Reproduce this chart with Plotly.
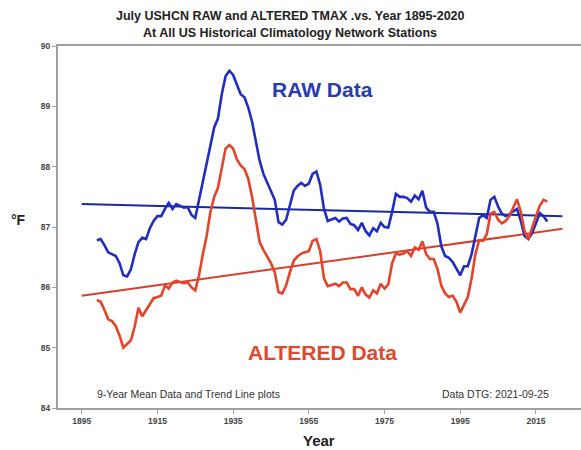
import plotly.graph_objects as go

years = list(range(1899, 2019))

raw_vals = [
    86.78, 86.80, 86.70, 86.58, 86.55, 86.52, 86.40, 86.20, 86.18, 86.30,
    86.55, 86.75, 86.82, 86.80, 86.98, 87.10, 87.18, 87.18, 87.30, 87.40,
    87.30, 87.38, 87.35, 87.32, 87.33, 87.20, 87.15, 87.45, 87.80, 88.05,
    88.40, 88.65, 88.80, 89.20, 89.50, 89.59, 89.52, 89.35, 89.20, 89.15,
    88.98, 88.75, 88.45, 88.10, 87.88, 87.74, 87.58, 87.45, 87.08, 87.04,
    87.12, 87.38, 87.60, 87.68, 87.73, 87.68, 87.72, 87.88, 87.92, 87.70,
    87.30, 87.10, 87.12, 87.15, 87.09, 87.14, 87.15, 87.05, 87.03, 86.95,
    87.07, 86.93, 86.86, 86.98, 86.93, 87.07, 87.00, 86.99, 87.25, 87.55,
    87.50, 87.50, 87.48, 87.42, 87.52, 87.46, 87.60, 87.32, 87.25, 87.25,
    87.05, 86.68, 86.52, 86.49, 86.42, 86.32, 86.20, 86.35, 86.35, 86.55,
    86.88, 87.15, 87.20, 87.15, 87.45, 87.50, 87.34, 87.22, 87.18, 87.21,
    87.26, 87.30, 87.10, 86.85, 86.80, 86.90, 87.06, 87.23, 87.18, 87.09,
]

altered_vals = [
    85.79, 85.76, 85.63, 85.47, 85.44, 85.36, 85.20, 85.00, 85.06, 85.12,
    85.35, 85.66, 85.52, 85.62, 85.74, 85.82, 85.84, 85.86, 86.03, 85.98,
    86.08, 86.11, 86.09, 86.07, 86.08, 86.00, 85.95, 86.20, 86.55, 86.85,
    87.25, 87.50, 87.65, 88.00, 88.30, 88.36, 88.30, 88.12, 88.02, 87.96,
    87.80, 87.50, 87.10, 86.75, 86.62, 86.52, 86.40, 86.25, 85.92, 85.90,
    86.03, 86.25, 86.44, 86.51, 86.56, 86.58, 86.60, 86.77, 86.80, 86.60,
    86.15, 86.02, 86.04, 86.06, 86.02, 86.08, 86.08, 85.97, 85.97, 85.86,
    86.00, 85.88, 85.83, 85.95, 85.90, 86.06, 85.98, 86.05, 86.40, 86.56,
    86.54, 86.56, 86.60, 86.52, 86.66, 86.62, 86.76, 86.55, 86.47, 86.47,
    86.30, 86.03, 85.90, 85.84, 85.86, 85.76, 85.58, 85.72, 85.84, 86.15,
    86.55, 86.78, 86.77, 86.88, 87.22, 87.25, 87.12, 87.06, 87.10, 87.18,
    87.32, 87.46, 87.25, 86.93, 86.80, 87.00, 87.18, 87.35, 87.45, 87.42,
]

trend_years = [1895, 2022]
raw_trend = [87.38, 87.18]
altered_trend = [85.86, 86.97]

x_ticks = [1895, 1915, 1935, 1955, 1975, 1995, 2015]
y_ticks = [84, 85, 86, 87, 88, 89, 90]

BLUE = "#1f2dc0"
BLUE_T = "#1a2a9e"
RED = "#e5432a"
RED_T = "#d8402c"
FONT = "Arial, Liberation Sans, sans-serif"

fig = go.Figure()
fig.add_trace(go.Scatter(x=trend_years, y=raw_trend, mode="lines",
                         line=dict(color=BLUE_T, width=2), hoverinfo="skip"))
fig.add_trace(go.Scatter(x=trend_years, y=altered_trend, mode="lines",
                         line=dict(color=RED_T, width=2), hoverinfo="skip"))
fig.add_trace(go.Scatter(x=years, y=raw_vals, mode="lines",
                         line=dict(color=BLUE, width=2.6)))
fig.add_trace(go.Scatter(x=years, y=altered_vals, mode="lines",
                         line=dict(color=RED, width=2.6)))

W, H = 581, 450
L, R, T, B = 58, 0, 46, 42
pw, ph = W - L - R, H - T - B

fig.update_layout(
    width=W, height=H,
    margin=dict(l=L, r=R, t=T, b=B),
    paper_bgcolor="white", plot_bgcolor="white",
    showlegend=False,
    font=dict(family=FONT, color="#222"),
    xaxis=dict(range=[1888.74, 2026.9], tickvals=x_ticks,
               ticktext=[f"<b>{t}</b>" for t in x_ticks],
               showgrid=False, zeroline=False, showline=True,
               linecolor="#a0a0a0", linewidth=2, mirror=True,
               ticks="outside", ticklen=4, tickcolor="#a0a0a0",
               tickfont=dict(size=8.5, color="#444", family=FONT)),
    yaxis=dict(range=[84, 90], tickvals=y_ticks,
               ticktext=[f"<b>{t}</b>" for t in y_ticks],
               showgrid=False, zeroline=False, showline=True,
               linecolor="#a0a0a0", linewidth=2,
               ticks="outside", ticklen=4, tickcolor="#a0a0a0",
               tickfont=dict(size=8.5, color="#444", family=FONT)),
)


def px(x):
    return (x - L) / pw


def py(y):
    return (H - B - y) / ph


def ann(text, x, y, size, color="#222", bold=True, xanchor="center"):
    t = f"<b>{text}</b>" if bold else text
    fig.add_annotation(text=t, x=px(x), y=py(y), xref="paper", yref="paper",
                       xanchor=xanchor, yanchor="middle", showarrow=False,
                       font=dict(size=size, color=color, family=FONT))


ann("July USHCN RAW and ALTERED TMAX .vs. Year 1895-2020", 290, 16, 12.5)
ann("At All US Historical Climatology Network Stations", 290, 33, 12.5)
ann("RAW Data", 322, 89, 21, color="#2a3bb0")
ann("ALTERED Data", 322, 352, 21, color="#e0482e")
ann("9-Year Mean Data and Trend Line plots", 95, 394, 10.5, color="#333", bold=False, xanchor="left")
ann("Data DTG: 2021-09-25", 440, 394, 10.5, color="#333", bold=False, xanchor="left")
ann("°F", 18, 220, 14)
ann("Year", 319, 440, 15)

fig.write_html("out.html", config={"displayModeBar": False},
               post_script="document.body.style.margin='0';")
